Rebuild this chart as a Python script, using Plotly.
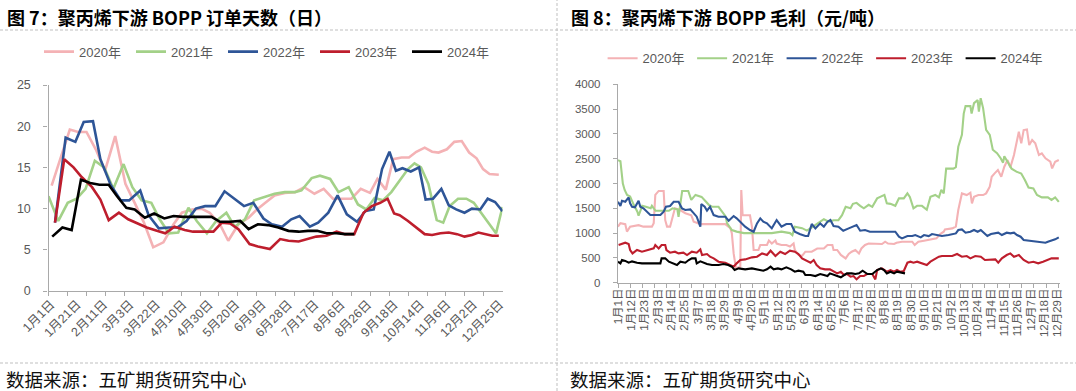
import plotly.graph_objects as go

W, H = 1076, 391

# ---------------- Left chart: BOPP order days (weekly, category positions) ----------------
left_tick_labels = ["1月1日", "1月21日", "2月11日", "3月3日", "3月22日", "4月10日", "4月30日",
                    "5月20日", "6月9日", "6月28日", "7月17日", "8月6日", "8月26日", "9月18日",
                    "10月14日", "11月6日", "12月2日", "12月25日"]

pos2020 = [0.34, 2.3, 3.2, 4.1, 5.1, 6.1, 7.2, 8.3, 9.3, 10.3, 11.3, 12.4, 13.5, 14.4, 15.5, 16.5,
           17.4, 18.5, 19.4, 20.5, 21.6, 22.5, 23.4, 24.4, 25.5, 26.6, 27.6, 28.7, 29.7, 30.7, 31.7,
           32.7, 33.7, 34.7, 35.5, 36.4, 37.2, 38.1, 38.9, 39.7, 40.6, 41.4, 42.1, 43.0, 43.8, 44.6,
           45.4, 46.2, 46.9, 47.6, 48.6]
val2020 = [12.8, 19.6, 19.3, 19.3, 17.2, 14.6, 18.8, 13.0, 10.7, 8.3, 5.3, 5.9, 8.1, 9.5, 9.9, 10.0,
           9.5, 8.1, 6.1, 8.1, 8.9, 9.9, 10.7, 11.6, 11.9, 12.0, 12.6, 11.8, 12.4, 11.2, 11.2,
           11.2, 12.4, 11.9, 13.6, 12.3, 16.0, 16.2, 16.2, 16.9, 17.4, 16.9, 16.8, 17.2, 18.1, 18.2,
           16.8, 16.1, 14.8, 14.2, 14.1]

pos2021 = [0, 1.06, 2.07, 3.04, 4.0, 5.0, 6.0, 7.0, 8.1, 9.05, 10.05, 11.1, 12.0, 13.0, 14.0, 15.1,
           16.0, 17.1, 18.1, 19.2, 20.1, 21.2, 22.2, 23.2, 24.4, 25.5, 26.6, 27.3, 28.4, 29.3, 30.4,
           31.3, 32.4, 33.4, 34.3, 35.2, 36.1, 37.0, 37.9, 38.8, 39.5, 40.2, 41.0, 41.9, 42.6, 43.3,
           44.2, 45.1, 45.9, 46.7, 47.6, 48.3, 49.0]
val2021 = [11.5, 8.5, 10.7, 11.2, 12.4, 15.8, 15.0, 12.4, 15.4, 12.6, 11.0, 10.7, 8.7, 7.0, 7.1, 10.1,
           8.5, 7.0, 8.5, 9.5, 7.8, 8.7, 11.0, 11.4, 11.8, 12.0, 12.0, 12.2, 13.7, 14.0, 13.6,
           12.0, 12.6, 10.5, 9.9, 11.3, 11.0, 12.0, 13.4, 14.8, 15.5, 15.0, 13.0, 8.6, 8.3, 10.3,
           11.2, 11.2, 10.7, 9.5, 8.0, 7.0, 10.2]

pos2022 = [0.7, 1.85, 2.9, 3.8, 4.8, 5.6, 6.7, 7.8, 8.7, 9.9, 10.8, 11.9, 13.0, 13.9, 14.9, 15.9,
           16.9, 18.0, 19.0, 20.1, 21.1, 22.1, 23.2, 24.1, 25.2, 26.2, 27.1, 28.2, 29.1, 30.2, 31.2,
           32.2, 33.3, 34.2, 35.1, 36.0, 36.8, 37.5, 38.2, 39.1, 40.0, 40.7, 41.5, 42.4, 43.2, 44.0,
           44.9, 45.7, 46.6, 47.4, 48.2, 49.0]
val2022 = [8.3, 18.6, 18.1, 20.5, 20.6, 16.0, 12.9, 11.0, 11.0, 12.2, 9.2, 7.6, 7.7, 7.7, 8.5, 10.0,
           10.3, 10.3, 12.1, 11.1, 10.3, 10.7, 8.8, 8.1, 7.8, 8.7, 9.1, 7.8, 8.3, 9.5, 11.6,
           9.3, 8.4, 9.7, 9.9, 14.8, 16.9, 14.6, 14.9, 14.5, 15.0, 11.1, 11.2, 12.4, 10.4, 9.9,
           9.5, 10.0, 9.9, 11.2, 10.8, 9.7]

pos2023 = [0.7, 1.7, 2.7, 3.6, 4.7, 5.6, 6.5, 7.6, 8.6, 9.7, 10.6, 11.7, 12.6, 13.6, 14.7, 15.6,
           16.7, 17.8, 18.7, 19.6, 20.5, 21.7, 22.6, 23.9, 25.0, 25.9, 27.0, 28.0, 28.9, 30.0, 31.1,
           32.0, 33.0, 34.0, 34.9, 35.8, 36.6, 37.3, 37.9, 38.8, 39.7, 40.6, 41.4, 42.3, 43.2, 44.1,
           44.9, 45.7, 46.4, 47.2, 47.9, 48.6]
val2023 = [8.3, 16.0, 15.0, 13.8, 12.6, 11.1, 8.6, 9.5, 8.7, 8.1, 7.7, 7.3, 7.0, 7.8, 7.4, 7.2,
           7.2, 7.2, 8.3, 8.2, 7.5, 5.7, 5.4, 5.1, 6.3, 6.1, 6.0, 6.3, 6.6, 6.7, 7.2,
           6.9, 6.9, 9.5, 10.3, 10.7, 11.2, 9.4, 9.2, 8.5, 7.7, 6.9, 6.8, 7.0, 7.1, 6.9,
           6.6, 6.8, 7.1, 6.9, 6.7, 6.7]

pos2024 = [0.4, 1.5, 2.5, 3.5, 4.5, 5.5, 6.5, 7.4, 8.4, 9.3, 10.4, 11.4, 12.5, 13.5, 14.5, 15.6,
           16.5, 17.6, 18.5, 19.6, 20.7, 21.6, 22.6, 23.7, 24.8, 25.9, 27.0, 28.0, 29.0, 30.0,
           31.1, 32.0, 33.0]
val2024 = [6.6, 7.7, 7.4, 13.5, 13.1, 12.9, 12.9, 11.5, 10.1, 9.9, 8.9, 9.4, 8.8, 9.1, 9.0, 9.0,
           9.0, 9.0, 8.4, 8.4, 8.5, 7.5, 8.1, 8.0, 7.7, 7.3, 7.2, 7.3, 7.3, 7.0,
           7.0, 6.9, 6.9]

# ---------------- Right chart: BOPP gross margin (daily, day of year) ----------------
right_tick_labels = ["1月1日", "1月12日", "1月23日", "2月3日", "2月14日", "2月25日", "3月7日", "3月18日",
                     "3月29日", "4月9日", "4月20日", "5月1日", "5月12日", "5月23日", "6月3日", "6月14日",
                     "6月25日", "7月6日", "7月17日", "7月28日", "8月8日", "8月19日", "8月30日", "9月10日",
                     "9月21日", "10月2日", "10月13日", "10月24日", "11月4日", "11月15日", "11月26日",
                     "12月7日", "12月18日", "12月29日"]
right_tick_days = [0, 11, 22, 33, 44, 55, 66, 77, 88, 99, 110, 121, 132, 143, 154, 165, 176, 187,
                   198, 209, 220, 231, 242, 253, 264, 275, 286, 297, 308, 319, 330, 341, 352, 363]

day2020 = [0, 2, 6, 7.4, 10, 17, 21, 28, 29.5, 30.8, 33.6, 37.7, 39, 40.5, 43, 47, 51, 55.6, 60.5,
           62.5, 65, 68, 75, 83, 88.6, 92.8, 94, 95.5, 97.4, 101, 101.8, 102.9, 109, 110.6, 112,
           116, 117.5, 123, 124.6, 127, 130, 131, 135, 139, 142, 145, 146, 149, 152, 154.7, 160,
           164.5, 170, 173, 177, 178, 181, 184, 188, 190.5, 193, 196, 199, 201, 204, 207, 215, 218,
           220.6, 223, 228, 230, 234.5, 240, 243, 245, 248, 252.7, 258, 263, 266, 269, 270, 276,
           279, 281, 284, 288, 291, 292.3, 294, 297.6, 301.5, 304, 307, 308.6, 311, 313.7, 316.5,
           319, 321.7, 324, 327, 329.6, 331, 333, 335, 337.7, 339.6, 342, 344.6, 347.6, 350, 353,
           357, 358.5, 361, 364]
gm2020 = [1130, 1200, 1180, 1030, 1130, 1160, 1130, 1130, 1200, 1770, 1850, 1850, 1260, 1130, 1130,
          1500, 1470, 1400, 1360, 1230, 1210, 1180, 1180, 1180, 1180, 1100, 1000, 590, 290, 320,
          1870, 1360, 1360, 1130, 660, 660, 760, 760, 850, 790, 850, 790, 760, 760, 730, 790, 660,
          560, 540, 625, 625, 690, 690, 760, 760, 660, 660, 560, 490, 580, 625, 660, 590, 690, 760,
          790, 790, 780, 826, 790, 780, 806, 826, 830, 826, 760, 826, 847, 874, 894, 981, 1028,
          1075, 1095, 1130, 1465, 1800, 1767, 1814, 1600, 1734, 1767, 1767, 1801, 1935, 2137, 2204,
          2271, 2137, 2339, 2473, 2325, 2574, 2910, 3044, 2809, 3078, 3091, 2775, 2876, 2809, 2574,
          2608, 2507, 2440, 2305, 2440, 2473]

day2021 = [0, 2, 4, 5.5, 7.5, 10, 13, 16, 17, 20, 23, 27, 28, 31, 36, 42, 45, 49, 50, 53, 58, 60.5,
           64, 69, 75, 78, 83, 86, 89, 90, 94, 98, 104, 111, 116, 123, 127, 135, 142, 144, 146, 152,
           156, 161, 167, 170, 174, 178, 182, 185, 188, 192, 194, 197, 200, 203, 207, 210, 214, 220,
           222, 225, 229, 232, 236, 239, 241, 244, 247, 251, 255, 258, 262, 265, 267, 269, 271, 277,
           279, 281, 284, 285.5, 287, 291, 292, 294, 297, 298, 299.5, 301.5, 304, 307, 309.5, 313,
           316, 318, 319, 322, 325, 329, 333, 336, 339, 343, 346, 350, 355, 358, 361, 364]
gm2021 = [2470, 2450, 2000, 1870, 1770, 1740, 1570, 1430, 1350, 1550, 1530, 1500, 1550, 1450, 1450,
          1450, 1500, 1480, 1330, 1850, 1850, 1670, 1770, 1730, 1570, 1530, 1530, 1430, 1330, 1200,
          1060, 1030, 1000, 1000, 1000, 1000, 1000, 1030, 1000, 960, 1130, 1100, 1050, 1130, 1230,
          1280, 1230, 1260, 1260, 1360, 1530, 1500, 1590, 1610, 1550, 1500, 1570, 1530, 1700, 1770,
          1600, 1590, 1550, 1700, 1700, 1800, 1730, 1500, 1550, 1550, 1470, 1730, 1770, 1720, 1870,
          1800, 2300, 2300, 2330, 2740, 2980, 3410, 3560, 3560, 3410, 3620, 3680, 3450, 3720, 3520,
          3080, 2980, 2680, 2610, 2510, 2420, 2550, 2410, 2300, 2240, 2200, 2070, 1920, 1900, 1770,
          1720, 1720, 1670, 1720, 1630]

day2022 = [0, 2, 3.3, 6, 8.8, 10, 11.6, 14, 17, 18.4, 21, 24, 26.7, 35, 37.7, 39.6, 43, 46, 50, 52.8,
           55.6, 59.7, 62.5, 65, 68, 68.8, 71.6, 73.5, 76, 79, 83, 88.6, 91.4, 95.5, 98, 101, 105,
           109, 112, 114.8, 117.5, 120, 123, 127, 131, 135, 139, 143, 146, 150, 154.7, 157, 160,
           163, 167, 170, 173, 175.4, 178, 182, 186, 190.5, 194, 197, 200, 204, 208, 215, 222, 229,
           232, 234.5, 239, 243, 245.5, 250, 252.7, 256.6, 259.3, 263.4, 267.5, 273, 279, 281, 284,
           287, 291, 294, 297, 299.6, 302, 305, 308, 310, 314, 317, 321, 324, 327, 329.5, 332.5,
           335, 339, 343, 348.6, 353, 355, 358, 361, 364]
gm2022 = [1633, 1546, 1653, 1633, 1720, 1600, 1532, 1519, 1653, 1532, 1499, 1431, 1364, 1364, 1431,
          1532, 1546, 1633, 1633, 1499, 1465, 1478, 1411, 1331, 1129, 1586, 1532, 1452, 1532, 1364,
          1331, 1331, 1250, 1344, 1297, 1230, 1129, 1062, 1028, 1196, 1297, 1230, 1196, 1095, 1263,
          1129, 1183, 1183, 1028, 981, 941, 941, 1183, 1095, 1196, 1129, 1230, 1263, 1142, 1129,
          1048, 1095, 1129, 1163, 1048, 1062, 1028, 1028, 1028, 1028, 927, 894, 941, 941, 961, 914,
          961, 941, 981, 961, 941, 961, 994, 1062, 1075, 1008, 1028, 1062, 1028, 1062, 1008, 941,
          981, 994, 1008, 961, 1008, 994, 1008, 961, 927, 860, 847, 847, 827, 806, 827, 847, 874,
          914]

day2023 = [0.5, 3.3, 6, 8.8, 10, 12, 15.7, 19.8, 25, 29.5, 30.8, 33.6, 36, 39, 40, 43, 47, 50, 54,
           57, 61, 65, 68, 69.4, 73.5, 76, 79, 83, 88.6, 92.8, 95.5, 98, 101, 105, 110.6, 114.8,
           117.5, 119, 123, 126, 130, 134, 138, 142, 146, 149, 152, 154.7, 159, 161.6, 164, 167,
           171, 175, 178, 181, 184, 186.6, 189, 192, 194.5, 197, 200, 203, 205.6, 210, 212.5, 214,
           218, 222, 225, 228, 230.4, 233, 236, 239, 241.5, 244, 247, 251, 255, 258, 262, 265,
           267.5, 270, 276, 280, 284, 288, 291, 295, 299.6, 303, 307, 311.6, 314, 317, 321, 324,
           327, 331, 335, 339, 343, 347, 351, 355, 358, 364]
gm2023 = [759, 780, 806, 780, 659, 591, 659, 625, 659, 692, 759, 692, 759, 759, 659, 605, 625, 591,
          605, 558, 625, 605, 672, 558, 578, 524, 491, 423, 403, 356, 323, 390, 457, 470, 511, 524,
          558, 591, 558, 645, 538, 625, 578, 645, 625, 578, 491, 457, 403, 457, 356, 289, 269, 269,
          222, 188, 222, 155, 175, 121, 134, 67, 134, 134, 175, 175, 67, 255, 289, 222, 255, 222,
          255, 222, 235, 403, 423, 403, 423, 390, 356, 423, 491, 524, 538, 538, 538, 578, 524, 538,
          491, 538, 524, 457, 457, 470, 403, 491, 558, 591, 524, 558, 457, 403, 423, 390, 423, 457,
          491, 491]

day2024 = [0, 2, 3.3, 6, 8.8, 11.6, 15.7, 19.8, 25, 31, 35, 36, 39, 42, 46, 48.7, 51.5, 55.6, 58.4,
           61, 64, 65, 68, 70.7, 73.5, 77.6, 83, 87, 91, 94, 96.3, 99.6, 105, 110.6, 116, 120, 123,
           126, 128.5, 132, 135, 139, 143, 146, 149, 153, 154.7, 159, 163, 167, 170, 173, 175, 178,
           181, 184, 186.6, 189, 193, 196, 199, 202, 206, 210, 214, 217, 219.7, 222, 225, 228,
           230.4, 234.5, 237]
gm2024 = [423, 390, 457, 440, 403, 430, 403, 390, 390, 390, 390, 491, 491, 423, 390, 356, 423, 403,
          457, 491, 491, 390, 430, 403, 376, 356, 356, 376, 356, 323, 255, 289, 269, 289, 269, 242,
          269, 323, 269, 289, 269, 309, 269, 222, 242, 222, 155, 155, 134, 175, 155, 134, 188, 155,
          134, 108, 155, 188, 188, 175, 188, 242, 175, 175, 255, 289, 255, 188, 222, 188, 222, 202,
          188]

series_names = ["2020年", "2021年", "2022年", "2023年", "2024年"]
series_colors = ["#F4B2B5", "#A3D188", "#2E5597", "#BE1E2D", "#000000"]

# ---------------- layout geometry (pixels -> paper) ----------------
def px_x(x):
    return x / W

def px_y(y):
    return 1 - y / H

AX = "#A9A9A9"
TXT = "#595959"
LAT = "Liberation Sans, Arial, Noto Sans CJK SC"
CJK = "Noto Sans CJK SC"

left_label_pos = [0.25 + 2.85 * k for k in range(len(left_tick_labels))]
left_minor = [0.02 + 49 / 24 * j for j in range(25)]
right_minor = [0.05 + 10.1 * j for j in range(37)]

fig = go.Figure()

left_data = [(pos2020, val2020), (pos2021, val2021), (pos2022, val2022), (pos2023, val2023), (pos2024, val2024)]
for (xs, ys), name, col in zip(left_data, series_names, series_colors):
    fig.add_trace(go.Scatter(x=xs, y=ys, mode="lines", name=name, line=dict(color=col, width=2.6),
                             xaxis="x", yaxis="y", legend="legend", hoverinfo="skip"))

right_data = [(day2020, gm2020), (day2021, gm2021), (day2022, gm2022), (day2023, gm2023), (day2024, gm2024)]
for (xs, ys), name, col in zip(right_data, series_names, series_colors):
    fig.add_trace(go.Scatter(x=xs, y=ys, mode="lines", name=name, line=dict(color=col, width=2.1),
                             xaxis="x2", yaxis="y2", legend="legend2", hoverinfo="skip"))

tick_font_l = dict(family=LAT, size=12.5, color=TXT)
tick_font_r = dict(family=LAT, size=11.5, color=TXT)
legend_font = dict(family=LAT, size=13, color=TXT)

common_axis = dict(showline=True, linecolor=AX, linewidth=1.4, showgrid=False, zeroline=False,
                   automargin=False, fixedrange=True)

fig.update_layout(
    width=W, height=H, margin=dict(l=0, r=0, t=0, b=0, pad=0, autoexpand=False),
    paper_bgcolor="white", plot_bgcolor="white",
    showlegend=True,
    xaxis=dict(domain=[px_x(48.5), px_x(502.5)], range=[0, 49], anchor="y", **common_axis,
               tickmode="array", tickvals=left_label_pos, ticktext=left_tick_labels,
               tickangle=-45, ticks="", tickfont=tick_font_l,
               minor=dict(tickmode="array", tickvals=left_minor, ticks="outside", ticklen=4,
                          tickcolor=AX, tickwidth=1.4, showgrid=False)),
    yaxis=dict(domain=[px_y(291), px_y(85)], range=[0, 25], anchor="x", **common_axis,
               tickmode="array", tickvals=[0, 5, 10, 15, 20, 25],
               ticks="outside", ticklen=4, tickcolor=AX, tickwidth=1.4,
               ticklabelstandoff=10, tickfont=tick_font_l),
    xaxis2=dict(domain=[px_x(618), px_x(1060)], range=[0, 365], anchor="y2", **common_axis,
                tickmode="array", tickvals=right_tick_days, ticktext=right_tick_labels,
                tickangle=-90, ticks="", tickfont=tick_font_r,
                minor=dict(tickmode="array", tickvals=right_minor, ticks="outside", ticklen=4,
                           tickcolor=AX, tickwidth=1.4, showgrid=False)),
    yaxis2=dict(domain=[px_y(282.7), px_y(84.3)], range=[0, 4000], anchor="x2", **common_axis,
                tickmode="array", tickvals=[0, 500, 1000, 1500, 2000, 2500, 3000, 3500, 4000],
                ticks="outside", ticklen=4, tickcolor=AX, tickwidth=1.4,
                ticklabelstandoff=10, tickfont=tick_font_r),
    legend=dict(orientation="h", x=px_x(39), xanchor="left", y=px_y(51.7), yanchor="middle",
                font=legend_font, bgcolor="rgba(0,0,0,0)", borderwidth=0,
                entrywidth=47, entrywidthmode="pixels", itemwidth=30, traceorder="normal"),
    legend2=dict(orientation="h", x=px_x(602.6), xanchor="left", y=px_y(58.3), yanchor="middle",
                 font=legend_font, bgcolor="rgba(0,0,0,0)", borderwidth=0,
                 entrywidth=44.5, entrywidthmode="pixels", itemwidth=30, traceorder="normal"),
)

# titles, sources, dashed frame lines
fig.add_annotation(x=px_x(5), y=px_y(17), xref="paper", yref="paper", xanchor="left", yanchor="middle",
                   text="图 7：聚丙烯下游 BOPP 订单天数（日）", showarrow=False,
                   font=dict(family=CJK, size=18, color="#000000", weight="bold"))
fig.add_annotation(x=px_x(569), y=px_y(17), xref="paper", yref="paper", xanchor="left", yanchor="middle",
                   text="图 8：聚丙烯下游 BOPP 毛利（元/吨）", showarrow=False,
                   font=dict(family=CJK, size=18, color="#000000", weight="bold"))
for xs in (5, 569):
    fig.add_annotation(x=px_x(xs), y=px_y(378.5), xref="paper", yref="paper", xanchor="left",
                       yanchor="middle", text="数据来源：五矿期货研究中心", showarrow=False,
                       borderpad=0, font=dict(family=CJK, size=18.5, color="#111111"))

dash_line = dict(color="#BFBFBF", width=1, dash="3px,2px")
fig.add_shape(type="line", xref="paper", yref="paper", x0=0, x1=1, y0=px_y(30), y1=px_y(30), line=dash_line)
fig.add_shape(type="line", xref="paper", yref="paper", x0=0, x1=1, y0=px_y(363), y1=px_y(363), line=dash_line)
fig.add_shape(type="line", xref="paper", yref="paper", x0=px_x(557), x1=px_x(557), y0=0, y1=1, line=dash_line)

fig.write_html("out.html", config=dict(displayModeBar=False),
               post_script="document.body.style.margin='0';document.body.style.overflow='hidden';")
